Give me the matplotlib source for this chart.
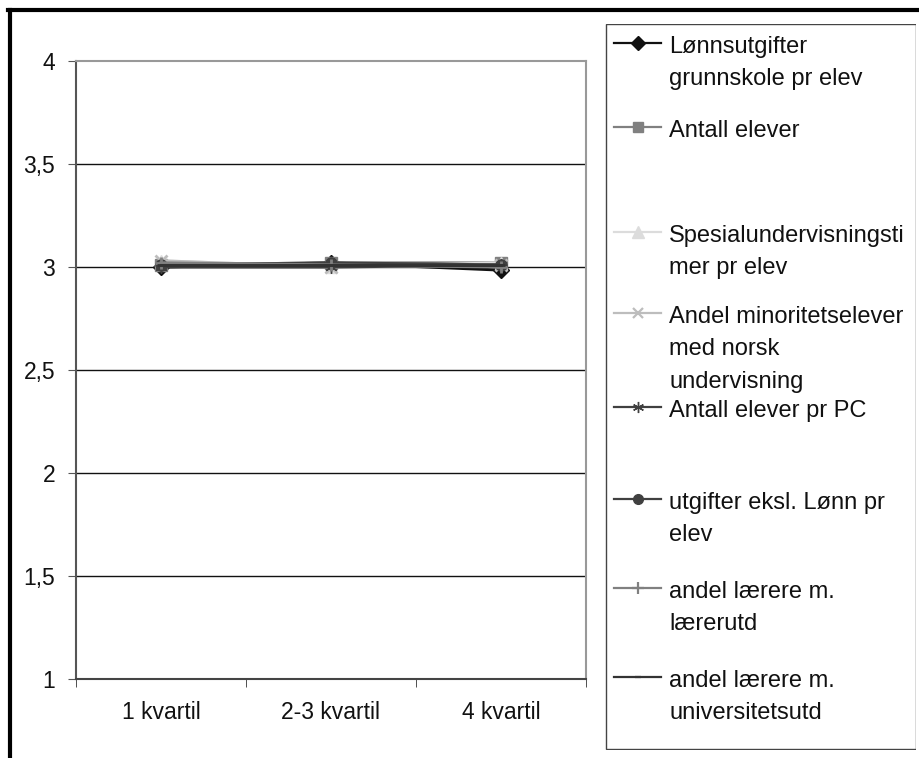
import matplotlib
matplotlib.use('Agg')
from matplotlib import pyplot as plt
from matplotlib.lines import Line2D
from matplotlib.patches import Rectangle

plt.rcParams['font.family'] = ['Liberation Sans', 'DejaVu Sans']

kategorier = ['1 kvartil', '2-3 kvartil', '4 kvartil']
y_ticks = [1, 1.5, 2, 2.5, 3, 3.5, 4]
y_labels = ['1', '1,5', '2', '2,5', '3', '3,5', '4']

lonn = [3.00, 3.02, 2.985]
antall_elever = [3.01, 3.02, 3.02]
spesial = [3.03, 3.00, 3.02]
minoritet = [3.03, 3.00, 3.01]
elever_pc = [3.00, 3.00, 3.01]
utgifter = [3.01, 3.02, 3.01]
laererutd = [3.02, 3.01, 3.00]
univ = [3.01, 3.01, 3.01]

serier = [
    ('Lønnsutgifter\ngrunnskole pr elev', lonn, '#111111', 'D', 8),
    ('Antall elever', antall_elever, '#808080', 's', 8),
    ('Spesialundervisningsti\nmer pr elev', spesial, '#dcdcdc', '^', 9),
    ('Andel minoritetselever\nmed norsk\nundervisning', minoritet, '#bdbdbd', 'x', 8),
    ('Antall elever pr PC', elever_pc, '#404040', (6, 2, 0), 9),
    ('utgifter eksl. Lønn pr\nelev', utgifter, '#404040', 'o', 8),
    ('andel lærere m.\nlærerutd', laererutd, '#808080', '+', 9),
    ('andel lærere m.\nuniversitetsutd', univ, '#333333', '_', 6),
]

W, H = 919, 758
fig = plt.figure(figsize=(W / 100, H / 100), dpi=100)

# ramme rundt figuren (bare venstre og topp synlig)
fig.add_artist(Line2D([9.5 / W, 9.5 / W], [0, 1 - 9.5 / H], color='black', lw=3, transform=fig.transFigure))
fig.add_artist(Line2D([8 / W, 1], [1 - 9.5 / H, 1 - 9.5 / H], color='black', lw=3, transform=fig.transFigure))

ax = fig.add_axes([76 / W, (H - 679) / H, 510 / W, (679 - 61) / H])
x = list(range(len(kategorier)))
for navn, verdier, farge, mk, ms in serier:
    mew = 2 if mk in ('x', '+', '_') else 1
    ax.plot(x, verdier, color=farge, marker=mk, markersize=ms, lw=2.2,
            markeredgewidth=mew, markeredgecolor=farge, markerfacecolor=farge)

ax.set_xlim(-0.5, 2.5)
ax.set_ylim(1, 4)
ax.set_yticks(y_ticks)
ax.set_yticklabels(y_labels, fontsize=16.5, color='#111111')
ax.set_xticks(x)
ax.set_xticklabels(kategorier, fontsize=16.5, color='#111111')
ax.set_xticks([-0.5, 0.5, 1.5, 2.5], minor=True)
ax.tick_params(axis='x', which='major', length=0, pad=16)
ax.tick_params(axis='x', which='minor', length=6, color='#333333', direction='out')
ax.tick_params(axis='y', length=6, color='#555555', direction='out', pad=9)
for v in y_ticks[1:-1]:
    ax.axhline(v, color='#111111', lw=1, zorder=0)
ax.spines['left'].set_color('#555555')
ax.spines['bottom'].set_color('#444444')
ax.spines['top'].set_color('#999999')
ax.spines['right'].set_color('#999999')
for s in ax.spines.values():
    s.set_linewidth(1.5)

# forklaring tegnet manuelt som i Excel
lx0, ly0, lx1, ly1 = 605, 24, 916, 750
lax = fig.add_axes([lx0 / W, (H - ly1) / H, (lx1 - lx0) / W, (ly1 - ly0) / H])
lax.set_xlim(lx0, lx1)
lax.set_ylim(ly1, ly0)
lax.axis('off')
lax.add_patch(Rectangle((lx0 + 0.5, ly0 + 0.5), lx1 - lx0 - 1, ly1 - ly0 - 1, fill=False,
                        edgecolor='#444444', lw=1))
rader = [43, 127, 232, 313, 407, 499, 588, 677]
for (navn, verdier, farge, mk, ms), yy in zip(serier, rader):
    mew = 1.6 if mk in ('x', '+', '_') else 1
    lax.plot([614, 661], [yy, yy], color=farge, lw=1.6)
    lax.plot([637.5], [yy], color=farge, marker=mk, markersize=ms - 1, markeredgewidth=mew,
             markeredgecolor=farge, markerfacecolor=farge)
    for i, linje in enumerate(navn.split('\n')):
        lax.text(669, yy + 10 + i * 32.5, linje, fontsize=17, va='baseline', ha='left', color='#111111')

fig.savefig('out.png', dpi=100)
